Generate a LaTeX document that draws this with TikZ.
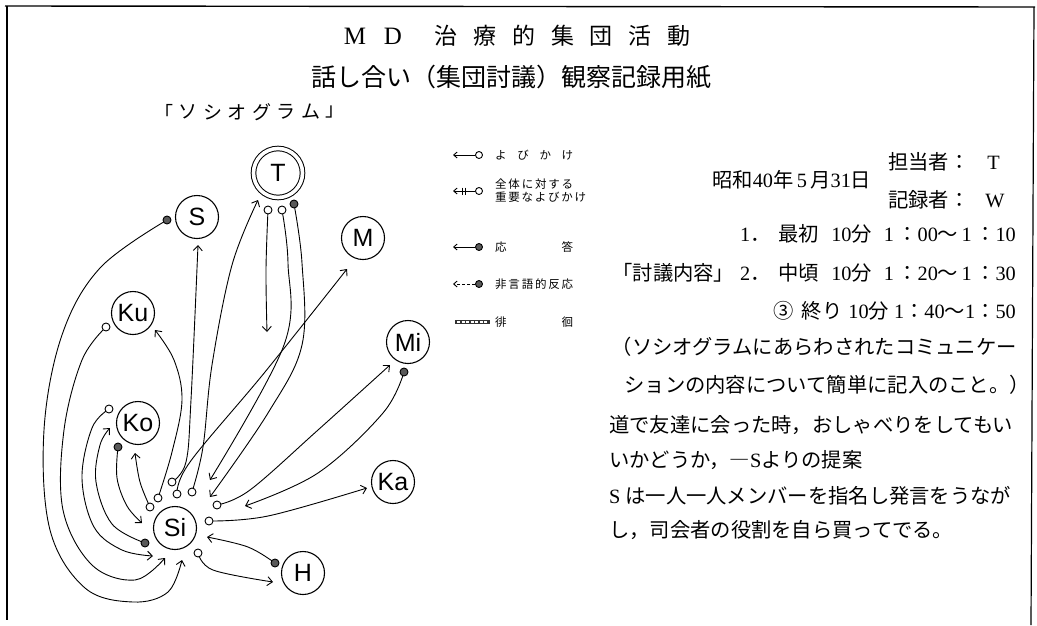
\documentclass[tikz,border=0pt]{standalone}
\usepackage{fontspec}
\setmainfont{Liberation Serif}
\setsansfont{Liberation Sans}
\newfontfamily\jpf{Noto Sans CJK JP}
\usetikzlibrary{arrows.meta}
\newcommand{\J}[1]{{\jpf #1}}
\newcommand{\tmx}[2]{1\,\J{：}#1\J{～}\,1\,\J{：}#2}
\newcommand{\tmy}[2]{1\J{：}#1\J{～}1\J{：}#2}
\pgfdeclarelayer{bg}
\pgfsetlayers{bg,main}
\begin{document}
\begin{tikzpicture}[x=1pt,y=-1pt,
  person/.style={circle,draw,fill=white,line width=1.1pt,minimum size=43pt,inner sep=0pt,font=\sffamily\fontsize{25}{25}\selectfont},
  tnode/.style={person,minimum size=49pt,double,double distance=3.6pt,line width=1pt},
  odot/.style={circle,draw,line width=0.9pt,minimum size=8pt,inner sep=0pt,fill=white},
  fdot/.style={odot,fill=black!65},
  lodot/.style={odot,minimum size=7pt},
  lfdot/.style={fdot,minimum size=7pt},
  arr/.style={line width=0.9pt,-{Straight Barb[length=5pt,width=9pt,line width=0.9pt]}},
  larr/.style={line width=0.9pt,-{Straight Barb[length=3.5pt,width=6pt,line width=0.9pt]}},
  sm/.style={smooth,tension=0.6},
  bt/.style={inner sep=0pt,font=\fontsize{20.3}{24}\selectfont},
  lt/.style={inner sep=0pt,anchor=west,font=\jpf\fontsize{11.5}{13}\selectfont},
  borderline/.style={line width=1.4pt,black}
]
\useasboundingbox (0,0) rectangle (1037,625);
% frame
\coordinate (fa) at (5,6);
\coordinate (fb) at (1035,7);
\coordinate (fc) at (7,6);
\coordinate (fd) at (7,620);
\coordinate (fe) at (1034,7);
\coordinate (ff) at (1031,625);
\draw[borderline] (fa) -- (fb);
\draw[borderline,line width=1.5pt] (fc) -- (fd);
\draw[borderline,line width=1.2pt] (fe) -- (ff);

% titles
\foreach \ch/\xx [count=\i] in {M/355,D/393}
  \node[inner sep=0pt,font=\fontsize{25}{25}\selectfont] (ta\i) at (\xx,36) {\ch};
\foreach \ch/\xx [count=\i] in {治/446,療/485,的/524,集/563,団/601,活/640,動/679}
  \node[inner sep=0pt,font=\jpf\fontsize{23}{23}\selectfont] (tb\i) at (\xx,36) {\ch};
\node[inner sep=0pt,font=\jpf\fontsize{25}{26}\selectfont] (title2) at (511,77) {話し合い（集団討議）観察記録用紙};
\foreach \ch [count=\i] in {「,ソ,シ,オ,グ,ラ,ム,」}
  \node[inner sep=0pt,font=\jpf\fontsize{19}{19}\selectfont] (sg\i) at ({139+\i*24.5},112) {\ch};

% people
\node[tnode] (T) at (278,173) {T};
\node[person] (S) at (197,217) {S};
\node[person] (M) at (363,238) {M};
\node[person] (Ku) at (133,313) {Ku};
\node[person] (Mi) at (408,342) {Mi};
\node[person] (Ko) at (138,423) {Ko};
\node[person] (Ka) at (393,482) {Ka};
\node[person] (Si) at (175,528) {Si};
\node[person] (H) at (303,573) {H};

% dots
\node[odot] (tA) at (268,210) {};
\node[odot] (tB) at (282,210) {};
\node[fdot] (tC) at (294,204) {};
\node[fdot] (sD) at (167,220) {};
\node[odot] (kuD) at (106,327) {};
\node[odot] (koA) at (109,409) {};
\node[fdot] (koB) at (118,447) {};
\node[fdot] (miD) at (404,372) {};
\node[fdot] (hD) at (275,563) {};
\node[odot] (si1) at (172,482) {};
\node[odot] (si2) at (158,498) {};
\node[odot] (si3) at (177,494) {};
\node[odot] (si4) at (192,492) {};
\node[odot] (si5) at (150,507) {};
\node[odot] (si6) at (217,505) {};
\node[odot] (si7) at (209,521) {};
\node[odot] (si8) at (198,553) {};
\node[fdot] (si9) at (145,543) {};

% arrow tips
\coordinate (tS) at (198,245);
\coordinate (tKu) at (155,330);
\coordinate (tM) at (347,269);
\coordinate (tT) at (258,200);
\coordinate (tKo1) at (135,453);
\coordinate (tMi) at (390,365);
\coordinate (tKa) at (367,488);
\coordinate (tH) at (273,582);
\coordinate (tKo2) at (110,428);
\coordinate (tSi1) at (182,560);
\coordinate (tSi2) at (165,558);
\coordinate (tSi3) at (153,556);
\coordinate (tSi4) at (142,523);
\coordinate (tSi5) at (210,480);
\coordinate (tSi6) at (210,497);
\coordinate (tSi7) at (245,506);
\coordinate (tSi8) at (207,537);
\coordinate (tDown) at (267,332);

\begin{pgfonlayer}{bg}
\draw[arr] plot[sm] coordinates {(sD) (100,268) (62,335) (44,430) (50,530) (85,588) (133,602) (168,592) (tSi1)};
\draw[arr] plot[sm] coordinates {(kuD) (82,360) (64,430) (63,510) (92,565) (135,580) (tSi2)};
\draw[arr] plot[sm] coordinates {(koA) (92,428) (82,478) (94,527) (122,550) (tSi3)};
\draw[arr] plot[sm] coordinates {(si9) (112,524) (96,482) (100,445) (tKo2)};
\draw[arr] plot[sm] coordinates {(koB) (117,478) (127,506) (tSi4)};
\draw[arr] plot[sm] coordinates {(si5) (140,482) (tKo1)};
\draw[arr] plot[sm] coordinates {(si2) (172,452) (182,400) (174,360) (tKu)};
\draw[arr] plot[sm] coordinates {(si1) (186,462) (191,400) (tS)};
\draw[arr] plot[sm] coordinates {(si4) (203,447) (212,365) (232,265) (tT)};
\draw[arr] plot[sm] coordinates {(si3) (190,462) (265,372) (tM)};
\draw[arr] plot[sm] coordinates {(tA) (266,270) (tDown)};
\draw[arr] plot[sm] coordinates {(tB) (288,263) (284,345) (tSi5)};
\draw[arr] plot[sm] coordinates {(tC) (302,263) (302,345) (268,413) (tSi6)};
\draw[arr] plot[sm] coordinates {(si6) (250,490) (318,430) (tMi)};
\draw[arr] plot[sm] coordinates {(miD) (383,413) (318,473) (tSi7)};
\draw[arr] plot[sm] coordinates {(si7) (268,516) (tKa)};
\draw[arr] plot[sm] coordinates {(hD) (248,547) (tSi8)};
\draw[arr] plot[sm] coordinates {(si8) (213,570) (tH)};
\end{pgfonlayer}

% legend
\node[lodot] (l1) at (479,155) {};
\coordinate (l1e) at (453,155);
\draw[larr] (l1) -- (l1e);
\node[lt] (lt1) at (495,155) {\makebox[78pt][s]{よ び か け}};
\node[lodot] (l2) at (479,191) {};
\coordinate (l2e) at (453,191);
\draw[larr] (l2) -- (l2e);
\draw[line width=0.8pt] (462,187.5) -- (462,194.5) (465.5,187.5) -- (465.5,194.5);
\node[lt] (lt2a) at (495,184) {\makebox[78pt][s]{全 体 に 対 す る}};
\node[lt] (lt2b) at (495,197) {\makebox[78pt][s]{重 要 な よ び か け}};
\node[lfdot] (l3) at (479,247) {};
\coordinate (l3e) at (453,247);
\draw[larr] (l3) -- (l3e);
\node[lt] (lt3) at (495,247) {\makebox[78pt][s]{応 答}};
\node[lfdot] (l4) at (479,284) {};
\coordinate (l4e) at (453,284);
\draw[larr,dash pattern=on 3pt off 2pt] (l4) -- (l4e);
\node[lt] (lt4) at (495,284) {\makebox[78pt][s]{非 言 語 的 反 応}};
\coordinate (l5a) at (455,322);
\coordinate (l5b) at (490,322);
\draw[line width=4.5pt,black!80] (l5a) -- (l5b);
\draw[line width=1.3pt,white,dash pattern=on 3pt off 1.5pt] (l5a) ++(2,0) -- ([xshift=-2pt]l5b);
\node[lt] (lt5) at (495,322) {\makebox[78pt][s]{徘 徊}};

% right text
\node[bt,anchor=west] (r1) at (888,162) {\J{担当者：}\hspace{18pt}T};
\node[bt,anchor=west] (r3) at (712,180) {\J{昭和}40\J{年}\,5\,\J{月}31\J{日}};
\node[bt,anchor=west] (r2) at (888,200) {\J{記録者：}\hspace{16pt}W};
\node[bt,anchor=east] (l1t) at (1016,234) {1\J{．}\hspace{8pt}\J{最初}\hspace{12pt}10\J{分}\hspace{12pt}\tmx{00}{10}};
\node[bt,anchor=east] (l2t) at (1016,273) {\J{「討議内容」}\hspace{6pt}2\J{．}\hspace{8pt}\J{中頃}\hspace{12pt}10\J{分}\hspace{12pt}\tmx{20}{30}};
\node[bt,anchor=east] (l3t) at (1016,311) {\J{③}\hspace{8pt}\J{終り}\hspace{6pt}10\J{分}\hspace{5pt}\tmy{40}{50}};
\node[bt,anchor=east] (b1) at (1017,347) {\J{（ソシオグラムにあらわされたコミュニケー}};
\node[bt,anchor=east] (b2) at (1030,385) {\J{ションの内容について簡単に記入のこと。）}};
\node[bt,anchor=west] (b3) at (609,425) {\J{道で友達に会った時，おしゃべりをしてもい}};
\node[bt,anchor=west] (b4) at (609,460) {\J{いかどうか，―}S\J{よりの提案}};
\node[bt,anchor=west] (b5) at (609,496) {S\hspace{5pt}\J{は一人一人メンバーを指名し発言をうなが}};
\node[bt,anchor=west] (b6) at (609,530) {\J{し，司会者の役割を自ら買ってでる。}};
\end{tikzpicture}
\end{document}
